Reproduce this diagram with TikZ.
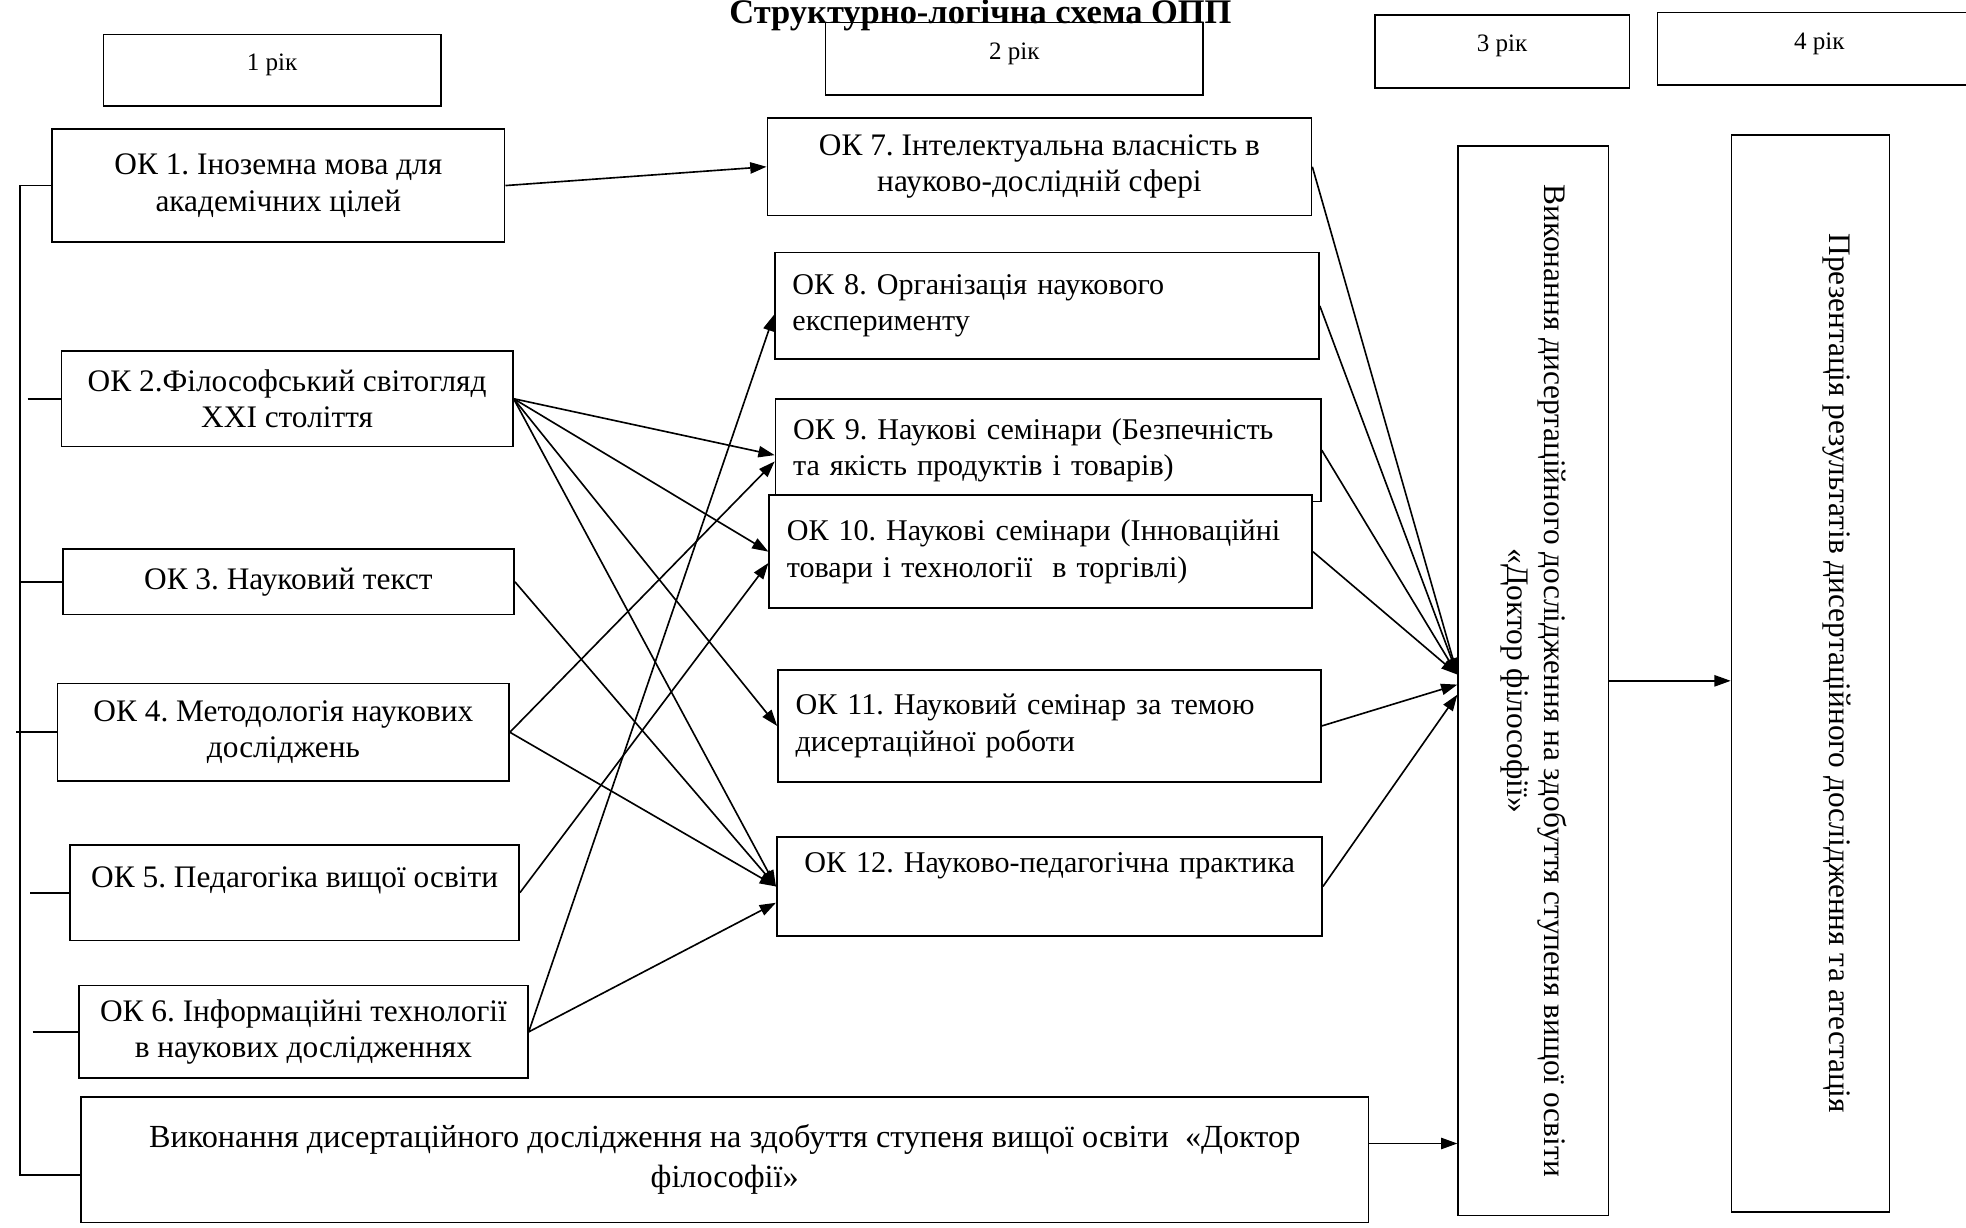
\documentclass[tikz,border=0pt]{standalone}
\usepackage{fontspec}
\usepackage{graphicx}
\setmainfont{Liberation Serif}
\usetikzlibrary{arrows.meta}
\newcommand\fsbox{\frenchspacing\fontsize{25}{29}\selectfont}
\newcommand\fslbox{\frenchspacing\fontsize{24}{29}\selectfont}
\newcommand\fsyear{\fontsize{20}{24}\selectfont}
\begin{document}
\begin{tikzpicture}[x=1pt,y=-1pt,
  box/.style={draw, line width=1.3pt, fill=white, inner xsep=16pt, inner ysep=3pt, font=\fsbox, align=center},
  lbox/.style={box, font=\fslbox, inner xsep=14pt, align=left},
  ybox/.style={box, font=\fsyear, text depth=13pt},
  arr/.style={line width=1.3pt, -{Triangle[length=13pt,width=9pt]}},
  ln/.style={line width=1.3pt}
]
\useasboundingbox (0,0) rectangle (1568,979);

% year boxes
\node[ybox, minimum width=269pt, minimum height=57pt] (y1) at (217,56) {1 рік};
\node[ybox, minimum width=301pt, minimum height=58pt] (y2) at (809,47) {2 рік};
\node[ybox, minimum width=203pt, minimum height=58pt] (y3) at (1198,41) {3 рік};
\node[ybox, minimum width=258pt, minimum height=58pt] (y4) at (1451,39) {4 рік};

% title (drawn after the year boxes so that it stays on top)
\node[font=\bfseries\fontsize{27.5}{30}\selectfont, anchor=base] (title) at (782,19) {Структурно-логічна схема ОПП};

% left column
\node[box, minimum width=361pt, minimum height=90pt] (ok1) at (222,148) {ОК 1. Іноземна мова для\\академічних цілей};
\node[box, minimum width=360pt, minimum height=76pt] (ok2) at (229,318) {ОК 2.Філософський світогляд\\XXI століття};
\node[box, minimum width=360pt, minimum height=52pt] (ok3) at (230,464) {ОК 3. Науковий текст};
\node[box, minimum width=360pt, minimum height=78pt] (ok4) at (226,584) {ОК 4. Методологія наукових\\досліджень};
\node[box, minimum width=358pt, minimum height=76pt] (ok5) at (235,712) {ОК 5. Педагогіка вищої освіти\\[-12pt]\strut};
\node[box, minimum width=358pt, minimum height=74pt] (ok6) at (242,823) {ОК 6. Інформаційні технології\\в наукових дослідженнях};
\node[box, font=\frenchspacing\fontsize{25.7}{32}\selectfont, minimum width=1027pt, minimum height=100pt] (diss) at (578,925) {Виконання дисертаційного дослідження на здобуття ступеня вищої освіти~ «Доктор\\філософії»};

% middle column
\node[box, minimum width=434pt, minimum height=78pt] (ok7) at (829,133) {ОК 7. Інтелектуальна власність в\\науково-дослідній сфері};
\node[lbox, text width=406pt, minimum height=85pt] (ok8) at (835,244) {ОК 8. Організація наукового\\експерименту};
\node[lbox, text width=407pt, minimum height=82pt] (ok9) at (836,359) {ОК 9. Наукові семінари (Безпечність\\та якість продуктів і товарів)};
\node[lbox, text width=405pt, minimum height=90pt] (ok10) at (830,440) {ОК 10. Наукові семінари (Інноваційні\\товари і технології~ в торгівлі)};
\node[lbox, text width=405pt, minimum height=89pt] (ok11) at (837,579) {ОК 11. Науковий семінар за темою\\дисертаційної роботи};
\node[lbox, text width=407pt, minimum height=79pt] (ok12) at (837,707) {\hspace*{8pt}ОК 12. Науково-педагогічна практика\\\strut};

% right column
\node[box, inner sep=0pt, minimum width=120pt, minimum height=853pt] (v3) at (1223,543)
  {\rotatebox{-90}{\begin{tabular}{@{}c@{}}Виконання дисертаційного дослідження на здобуття ступеня вищої освіти\\«Доктор філософії»\end{tabular}}};
\node[box, inner sep=0pt, minimum width=126pt, minimum height=859pt] (v4) at (1444,537)
  {\hspace*{42pt}\rotatebox{-90}{Презентація результатів дисертаційного дослідження та атестація}};

% connectors
\draw[arr] (ok1.east) -- (ok7.west);
\draw[arr] (ok2.east) -- ([yshift=-4pt]ok9.west);
\draw[arr] (ok2.east) -- (ok10.west);
\draw[arr] (ok2.east) -- (ok11.west);
\draw[arr] (ok2.east) -- (ok12.west);
\draw[arr] (ok3.east) -- (ok12.west);
\draw[arr] (ok4.east) -- ([yshift=-9pt]ok9.west);
\draw[arr] (ok4.east) -- (ok12.west);
\draw[arr] (ok5.east) -- ([yshift=-9pt]ok10.west);
\draw[arr] (ok6.east) -- ([yshift=-7pt]ok8.west);
\draw[arr] (ok6.east) -- ([yshift=-13pt]ok12.west);

\draw[arr] (ok7.east) -- ([yshift=5pt]v3.west);
\draw[arr] (ok8.east) -- ([yshift=5pt]v3.west);
\draw[arr] (ok9.east) -- ([yshift=5pt]v3.west);
\draw[arr] (ok10.east) -- ([yshift=5pt]v3.west);
\draw[arr] (ok11.east) -- ([yshift=-3pt]v3.west);
\draw[arr] (ok12.east) -- ([yshift=-11pt]v3.west);

\draw[arr] ([yshift=13pt]diss.east) -- ([yshift=13pt]diss.east -| v3.west);
\draw[arr] (v3.east) -- (v3.east -| v4.west);

% left rail
\coordinate (rail) at (16,0);
\draw[ln] (ok1.west) -| ([yshift=-12pt]diss.west -| rail) -- ([yshift=-12pt]diss.west);
\draw[ln] ([xshift=6pt]ok2.west -| rail) -- (ok2.west);
\draw[ln] (ok3.west -| rail) -- (ok3.west);
\draw[ln] ([xshift=-3pt]ok4.west -| rail) -- (ok4.west);
\draw[ln] ([xshift=8pt]ok5.west -| rail) -- (ok5.west);
\draw[ln] ([xshift=10pt]ok6.west -| rail) -- (ok6.west);
\end{tikzpicture}
\end{document}
